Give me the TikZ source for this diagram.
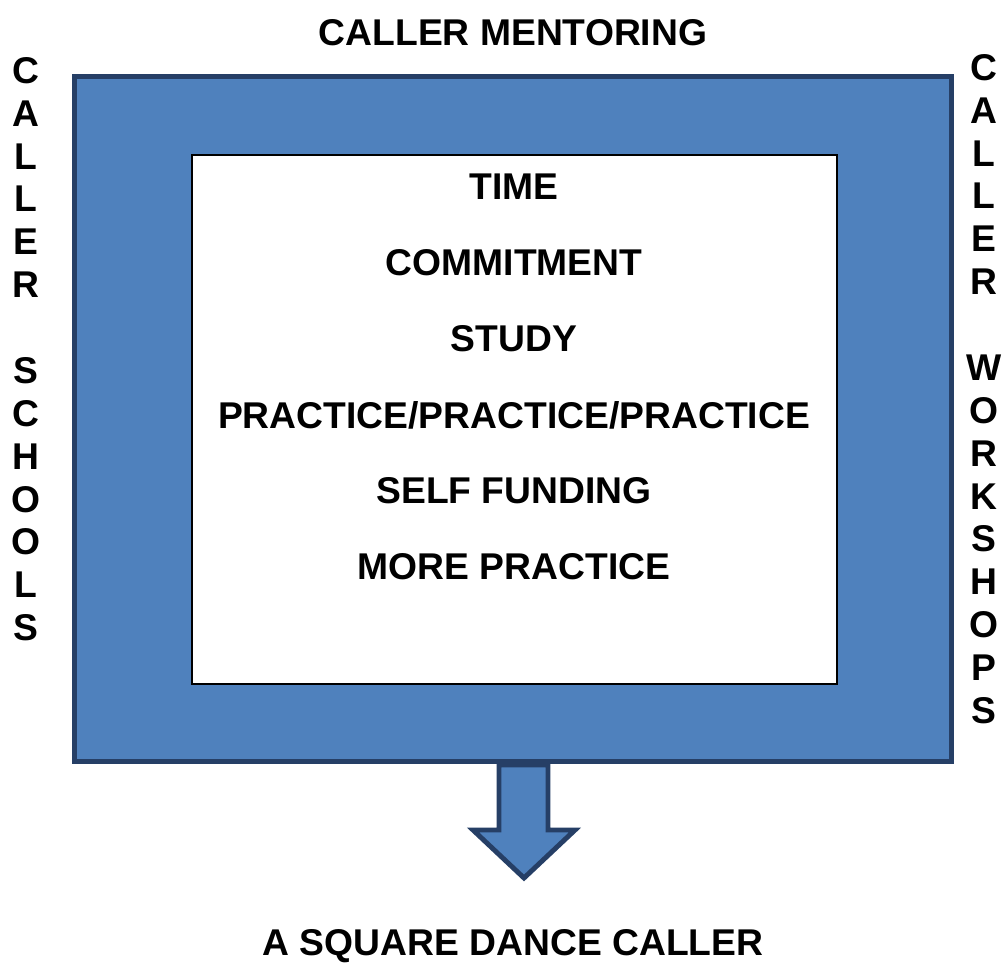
\documentclass[tikz,border=0pt]{standalone}
\usepackage{fontspec}
\setmainfont{Liberation Sans}
\usetikzlibrary{positioning}
\definecolor{boxblue}{HTML}{4F81BD}
\definecolor{edgeblue}{HTML}{263F66}

\begin{document}
\begin{tikzpicture}[x=0.02cm, y=-0.02cm,
        every node/.style={font=\fontsize{21.2}{24.4}\selectfont\bfseries, inner sep=0pt},
        frame/.style={draw=edgeblue, fill=boxblue, line width=2.8pt},
        sheet/.style={draw=black, fill=white, line width=1.1pt},
        column/.style={align=center, anchor=north}]
        \useasboundingbox (0,0) rectangle (1005,963);
        \node[frame, minimum width=17.56cm, minimum height=13.72cm] (outer) at (513,419) {};
        \node[sheet, minimum width=12.9cm, minimum height=10.58cm] (inner) at (514.5,419.5) {};
        % items inside the white box
        \node (time) at (514,187) {TIME};
        \node[below=1.52cm of time.center, anchor=center] (commit) {COMMITMENT};
        \node[below=1.52cm of commit.center, anchor=center] (study) {STUDY};
        \node[below=1.52cm of study.center, anchor=center] (practice) {PRACTICE/PRACTICE/PRACTICE};
        \node[below=1.52cm of practice.center, anchor=center] (funding) {SELF FUNDING};
        \node[below=1.52cm of funding.center, anchor=center] (more) {MORE PRACTICE};
        % labels round the frame
        \node (mentor) at (513,33) {CALLER MENTORING};
        \node[column] (schools) at (26,57) {C\\A\\L\\L\\E\\R\\[24.4pt]S\\C\\H\\O\\O\\L\\S};
        \node[column] (workshops) at (984,54) {C\\A\\L\\L\\E\\R\\[24.4pt]W\\O\\R\\K\\S\\H\\O\\P\\S};
        \node (caller) at (513,946) {A SQUARE DANCE CALLER};
        % block arrow
        \draw[frame, line width=2.8pt, line join=miter]
            (499,765) -- (548,765) -- (548,830) -- (575,830) -- (524,878)
            -- (473,830) -- (499,830) -- cycle;
\end{tikzpicture}
\end{document}
